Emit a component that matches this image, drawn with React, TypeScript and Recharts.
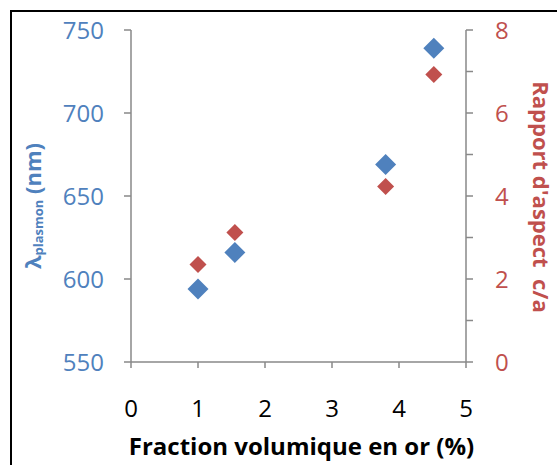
import { ScatterChart, Scatter, XAxis, YAxis, Label } from 'recharts';

// Fraction volumique (%) -> lambda plasmon (nm) and aspect ratio c/a
const fractions = [1.0, 1.55, 3.8, 4.52];
const plasmonNm = [594, 616, 669, 739];
const aspectRatio = [2.35, 3.12, 4.23, 6.93];

const xTicks = [0, 1, 2, 3, 4, 5];
const leftTicks = [550, 600, 650, 700, 750];
const rightTicks = [0, 1, 2, 3, 4, 5, 6, 7, 8];

const BLUE = '#4F81BD';
const RED = '#C0504D';
const AXIS = '#898989';
const FONT = '"Open Sans", sans-serif';

const plasmonData = fractions.map((x, i) => ({ x, y: plasmonNm[i] }));
const aspectData = fractions.map((x, i) => ({ x, y: aspectRatio[i] }));

const diamond = (half: number, color: string) => (props: any) => {
  const { cx, cy } = props;
  if (cx == null || cy == null) return <g />;
  return (
    <polygon
      points={`${cx},${cy - half} ${cx + half},${cy} ${cx},${cy + half} ${cx - half},${cy}`}
      fill={color}
    />
  );
};

const LeftTitle = (props: any) => {
  const { viewBox } = props;
  const x = viewBox.x + 20;
  const y = viewBox.y + viewBox.height / 2 + 10;
  return (
    <text
      x={x}
      y={y}
      transform={`rotate(-90, ${x}, ${y})`}
      textAnchor="middle"
      dominantBaseline="central"
      fill={BLUE}
      fontFamily={FONT}
      fontWeight="bold"
      fontSize={22}
    >
      <tspan>λ</tspan>
      <tspan fontSize={13} dy={6}>plasmon</tspan>
      <tspan dy={-6}> (nm)</tspan>
    </text>
  );
};

const RightTitle = (props: any) => {
  const { viewBox } = props;
  const x = viewBox.x + 76;
  const y = viewBox.y + viewBox.height / 2 + 1;
  return (
    <text
      x={x}
      y={y}
      transform={`rotate(90, ${x}, ${y})`}
      textAnchor="middle"
      dominantBaseline="central"
      fill={RED}
      fontFamily={FONT}
      fontWeight="bold"
      fontSize={22}
      style={{ whiteSpace: 'pre' }}
    >
      {"Rapport d'aspect  c/a"}
    </text>
  );
};

const BottomTitle = (props: any) => {
  const { viewBox } = props;
  return (
    <text
      x={viewBox.x + viewBox.width / 2 + 3}
      y={viewBox.y + 93}
      textAnchor="middle"
      fill="#000"
      fontFamily={FONT}
      fontWeight="bold"
      fontSize={24}
    >
      Fraction volumique en or (%)
    </text>
  );
};

export default function App() {
  return (
    <div
      style={{
        position: 'absolute',
        left: 10,
        top: 10,
        width: 547,
        height: 455,
        borderLeft: '2px solid #000',
        borderTop: '2px solid #000',
        boxSizing: 'border-box',
        background: '#fff',
      }}
    >
      <ScatterChart width={545} height={453} margin={{ top: 18, right: 0, bottom: 0, left: 0 }}>
        <XAxis
          type="number"
          dataKey="x"
          domain={[0, 5]}
          ticks={xTicks}
          height={103}
          stroke={AXIS}
          strokeWidth={1.5}
          tickSize={6}
          tickMargin={32}
          tick={{ fill: '#000', fontSize: 24, fontFamily: FONT }}
          label={<Label content={BottomTitle} />}
        />
        <YAxis
          yAxisId="left"
          type="number"
          dataKey="y"
          domain={[550, 750]}
          ticks={leftTicks}
          width={119}
          stroke={AXIS}
          strokeWidth={1.5}
          tickSize={7}
          tickMargin={20}
          tick={{ fill: BLUE, fontSize: 24, fontFamily: FONT }}
          label={<Label content={LeftTitle} />}
        />
        <YAxis
          yAxisId="right"
          orientation="right"
          type="number"
          dataKey="y"
          domain={[0, 8]}
          ticks={rightTicks}
          width={91}
          stroke={AXIS}
          strokeWidth={1.5}
          tickSize={7}
          tickMargin={22}
          tickFormatter={(v: number) => (v % 2 === 0 ? String(v) : '')}
          tick={{ fill: RED, fontSize: 24, fontFamily: FONT }}
          label={<Label content={RightTitle} />}
        />
        <Scatter
          yAxisId="left"
          data={plasmonData}
          shape={diamond(10.5, BLUE)}
          isAnimationActive={false}
        />
        <Scatter
          yAxisId="right"
          data={aspectData}
          shape={diamond(8.5, RED)}
          isAnimationActive={false}
        />
      </ScatterChart>
    </div>
  );
}
